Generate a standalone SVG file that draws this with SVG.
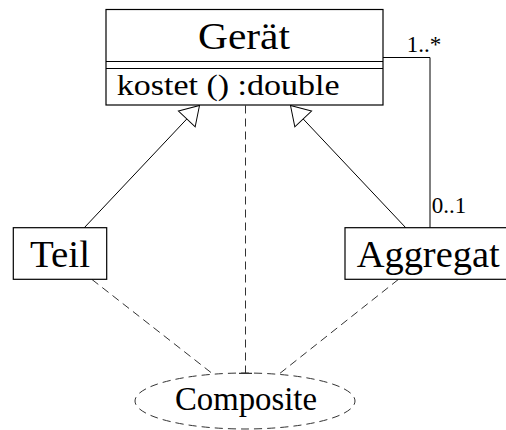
<svg xmlns="http://www.w3.org/2000/svg" width="506" height="430" viewBox="0 0 506 430">
<style>
text{font-family:'Liberation Serif','Times New Roman',Times,'Nimbus Roman','Nimbus Roman No9 L',FreeSerif,'Noto Serif','DejaVu Serif',Tinos,Georgia,serif;fill:#000}
.box{fill:#fff;stroke:#000;stroke-width:1.2}
.solid{fill:none;stroke:#000;stroke-width:1}
.dash{fill:none;stroke:#333;stroke-width:1;stroke-dasharray:8 5}
</style>
<defs>
<marker id="tri" markerUnits="userSpaceOnUse" orient="auto" refX="0" refY="0" markerWidth="40" markerHeight="40" overflow="visible">
<path d="M0,0 L18.5,-11.5 L18.5,11.5 Z" fill="#fff" stroke="#000" stroke-width="1"/>
</marker>
</defs>
<rect x="0" y="0" width="506" height="430" fill="#fff"/>
<g id="connectors">
<line class="solid" x1="199.5" y1="105.5" x2="84" y2="228" marker-start="url(#tri)"/>
<line class="solid" x1="290.5" y1="105.5" x2="406" y2="228" marker-start="url(#tri)"/>
<polyline class="solid" points="383,57.5 430,57.5 430,228"/>
<text x="406.7" y="51.7" font-size="23">1..*</text>
<text x="431.7" y="213.3" font-size="23">0..1</text>
<line class="dash" x1="245.5" y1="105.5" x2="245.5" y2="373"/>
<line class="solid" x1="239" y1="373.3" x2="252" y2="373.3"/>
<line class="dash" x1="92" y1="279.5" x2="212" y2="373.3"/>
<line class="dash" x1="398.3" y1="279.5" x2="280" y2="373.3"/>
</g>
<g id="geraet">
<rect class="box" x="106" y="9.5" width="277" height="95.5"/>
<line class="solid" stroke-width="1.2" x1="106" y1="61.5" x2="383" y2="61.5"/>
<line class="solid" stroke-width="1.2" x1="106" y1="68.5" x2="383" y2="68.5"/>
<text x="198" y="49" font-size="38" textLength="92" lengthAdjust="spacingAndGlyphs">Gerät</text>
<text x="116.7" y="94.7" font-size="30" textLength="223" lengthAdjust="spacingAndGlyphs">kostet () :double</text>
</g>
<g id="teil">
<rect class="box" x="13.3" y="227.7" width="93.4" height="51.6"/>
<text x="30" y="266.7" font-size="38" textLength="60" lengthAdjust="spacingAndGlyphs">Teil</text>
</g>
<g id="aggregat">
<rect class="box" x="345" y="227.7" width="165" height="51.6"/>
<text x="356.7" y="266.7" font-size="38" textLength="143" lengthAdjust="spacingAndGlyphs">Aggregat</text>
</g>
<g id="composite">
<path d="M135,401 A110,28 0 0 1 355,401 A110,28 0 0 1 135,401 Z" fill="none" stroke="#333" stroke-width="1" pathLength="468" stroke-dasharray="8 5" stroke-dashoffset="4"/>
<text x="175" y="410" font-size="33" textLength="142" lengthAdjust="spacingAndGlyphs">Composite</text>
</g>
</svg>
